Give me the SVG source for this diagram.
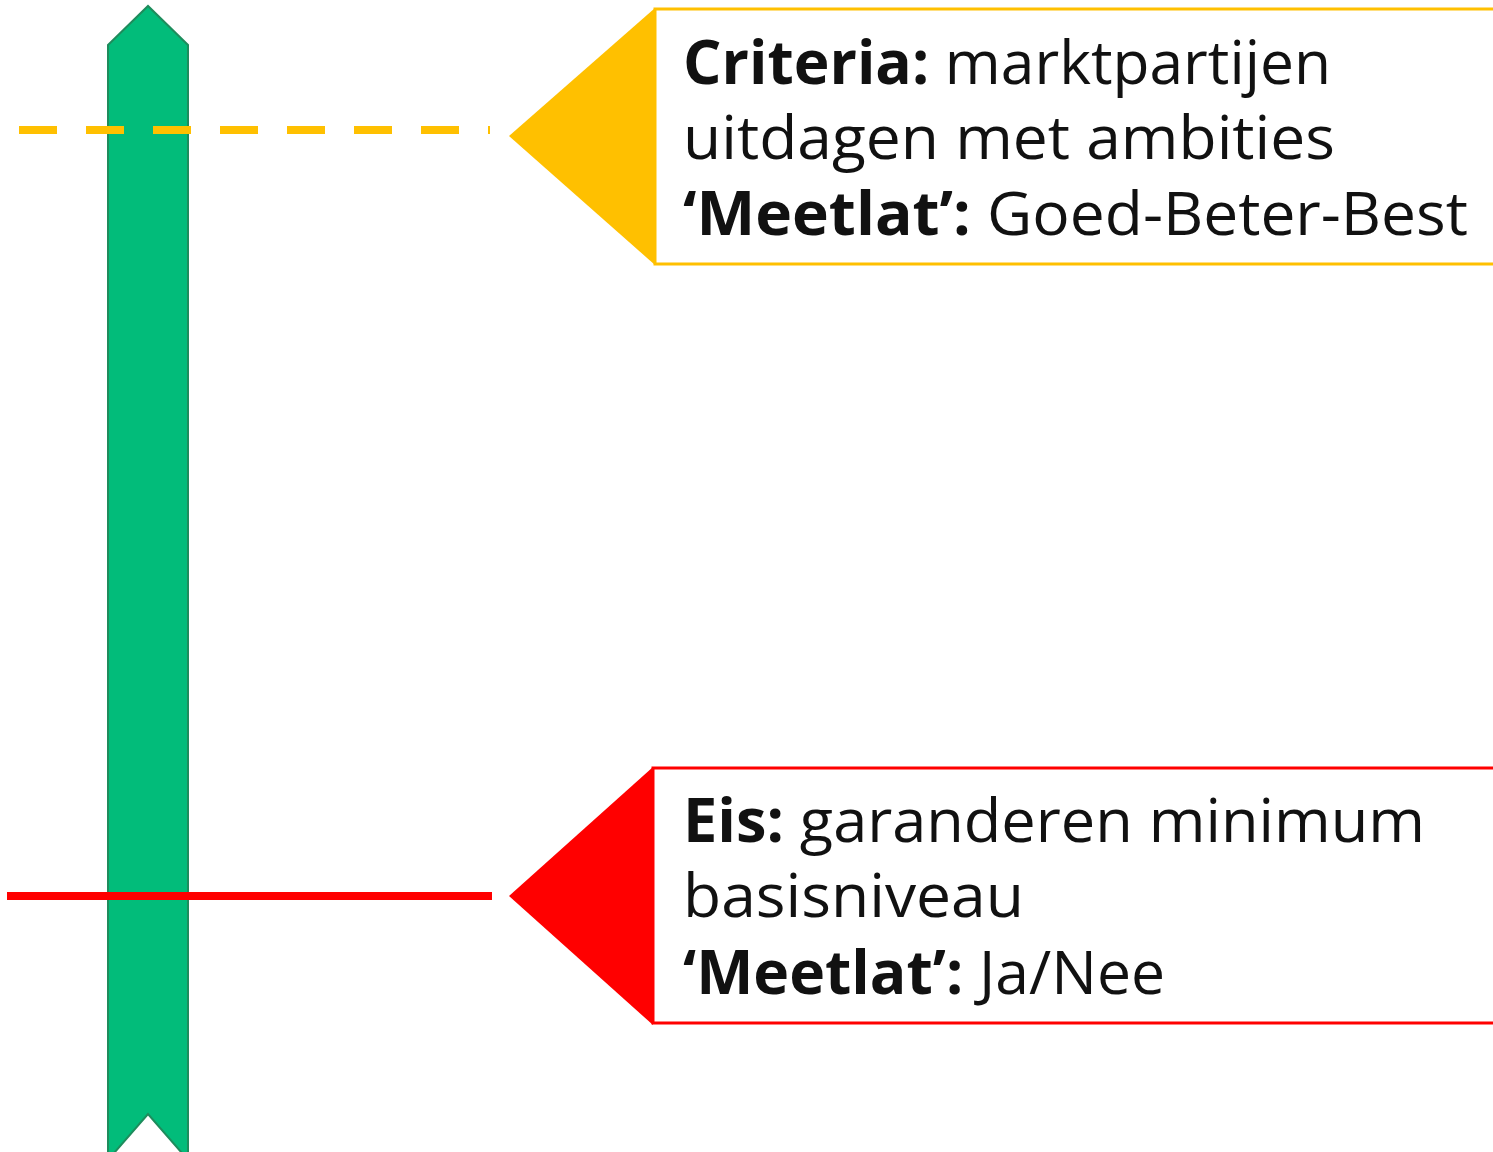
<svg xmlns="http://www.w3.org/2000/svg" width="1493" height="1152" viewBox="0 0 1493 1152">
<style>
.t{font-family:"Open Sans","Liberation Sans",sans-serif;font-size:60px;fill:#111}
.b{font-weight:bold}
</style>
<rect width="1493" height="1152" fill="#fff"/>
<g id="bar">
<polygon points="108,45 148,6 188,45 188,1160 148,1114 108,1160" fill="#02BC7A" stroke="#1E8C5C" stroke-width="2"/>
</g>
<g id="connectors">
<line x1="19" y1="130" x2="490" y2="130" stroke="#FFC000" stroke-width="8" stroke-dasharray="38 29"/>
<line x1="7" y1="896" x2="492" y2="896" stroke="#FF0000" stroke-width="8"/>
</g>
<g id="criteria">
<polygon points="509,136 655,8 655,265" fill="#FFC000"/>
<polyline points="1500,9 655,9 655,264 1500,264" fill="none" stroke="#FFC000" stroke-width="3"/>
<text class="t" x="683" y="84" textLength="648" lengthAdjust="spacingAndGlyphs"><tspan class="b">Criteria:</tspan> marktpartijen</text>
<text class="t" x="683" y="159" textLength="652" lengthAdjust="spacingAndGlyphs">uitdagen met ambities</text>
<text class="t" x="683" y="235" textLength="785" lengthAdjust="spacingAndGlyphs"><tspan class="b">‘Meetlat’:</tspan> Goed-Beter-Best</text>
</g>
<g id="eis">
<polygon points="509,896 653,767 653,1025" fill="#FF0000"/>
<polyline points="1500,768 653,768 653,1023 1500,1023" fill="none" stroke="#FF0000" stroke-width="3"/>
<text class="t" x="683" y="842" textLength="742" lengthAdjust="spacingAndGlyphs"><tspan class="b">Eis:</tspan> garanderen minimum</text>
<text class="t" x="683" y="917" textLength="341" lengthAdjust="spacingAndGlyphs">basisniveau</text>
<text class="t" x="683" y="994" textLength="482" lengthAdjust="spacingAndGlyphs"><tspan class="b">‘Meetlat’:</tspan> Ja/Nee</text>
</g>
</svg>
